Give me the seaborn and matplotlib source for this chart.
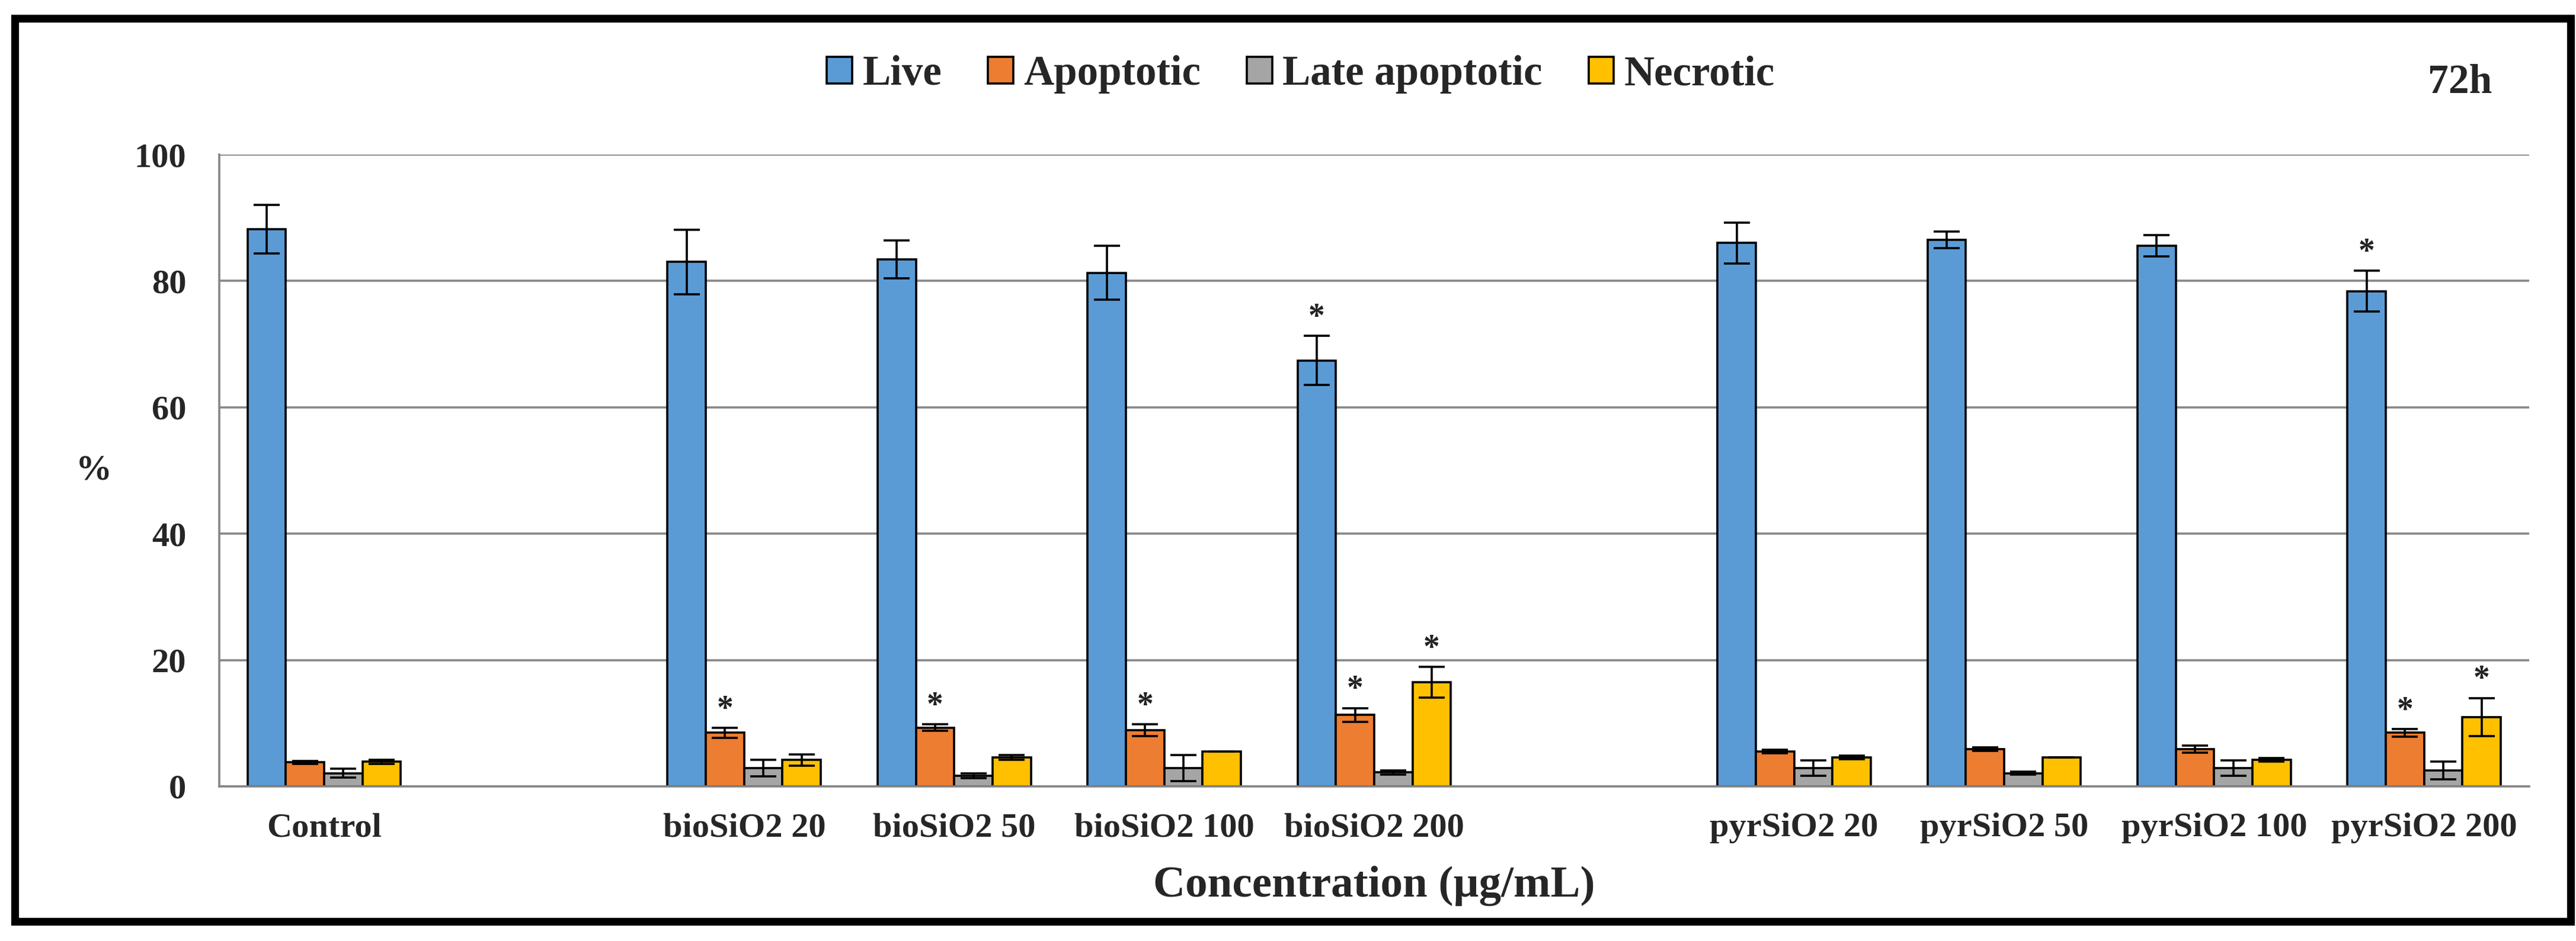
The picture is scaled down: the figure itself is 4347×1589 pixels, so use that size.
"""
plot.py
Cell death assay at 72h: live / apoptotic / late apoptotic / necrotic fractions.
"""

import matplotlib
matplotlib.use("Agg")
import matplotlib.pyplot as plt
from matplotlib.patches import Rectangle
import numpy as np
import pandas as pd
import seaborn as sns


# ---------------------------------------------------------------------------
# Data
# ---------------------------------------------------------------------------
categories = ["Control", " ", "bioSiO2 20", "bioSiO2 50", "bioSiO2 100", "bioSiO2 200",
              "  ", "pyrSiO2 20", "pyrSiO2 50", "pyrSiO2 100", "pyrSiO2 200"]
samples = ["Control", "bioSiO2 20", "bioSiO2 50", "bioSiO2 100", "bioSiO2 200",
           "pyrSiO2 20", "pyrSiO2 50", "pyrSiO2 100", "pyrSiO2 200"]
series = ["Live", "Apoptotic", "Late apoptotic", "Necrotic"]

live      = [88.2, 83.0, 83.4, 81.3, 67.4, 86.0, 86.5, 85.6, 78.4]
live_err  = [3.8, 5.1, 3.0, 4.3, 3.9, 3.2, 1.3, 1.7, 3.2]
apop      = [3.8, 8.5, 9.3, 8.9, 11.3, 5.5, 5.9, 5.9, 8.5]
apop_err  = [0.2, 0.8, 0.5, 0.9, 1.1, 0.3, 0.3, 0.6, 0.6]
late      = [2.1, 2.9, 1.7, 2.9, 2.2, 2.9, 2.1, 2.9, 2.5]
late_err  = [0.7, 1.3, 0.4, 2.1, 0.3, 1.2, 0.2, 1.2, 1.4]
necro     = [3.9, 4.2, 4.6, 5.5, 16.5, 4.6, 4.6, 4.2, 11.0]
necro_err = [0.3, 0.9, 0.4, 0.0, 2.4, 0.3, 0.0, 0.3, 3.0]

# (sample, series) pairs marked with an asterisk
significant = [
    ("bioSiO2 20", "Apoptotic"),
    ("bioSiO2 50", "Apoptotic"),
    ("bioSiO2 100", "Apoptotic"),
    ("bioSiO2 200", "Live"),
    ("bioSiO2 200", "Apoptotic"),
    ("bioSiO2 200", "Necrotic"),
    ("pyrSiO2 200", "Live"),
    ("pyrSiO2 200", "Apoptotic"),
    ("pyrSiO2 200", "Necrotic"),
]

colors = ["#5B9BD5", "#ED7D31", "#A5A5A5", "#FFC000"]
GRID = "#868686"

# ---------------------------------------------------------------------------
# Long-form table
# ---------------------------------------------------------------------------
values = {"Live": live, "Apoptotic": apop, "Late apoptotic": late, "Necrotic": necro}
errors = {"Live": live_err, "Apoptotic": apop_err, "Late apoptotic": late_err, "Necrotic": necro_err}
rows = []
for s in series:
    for i, cat in enumerate(samples):
        rows.append({"category": cat, "series": s, "value": values[s][i], "err": errors[s][i]})
df = pd.DataFrame(rows)
err_lookup = {(r.category, r.series): r.err for r in df.itertuples()}

# ---------------------------------------------------------------------------
# Figure
# ---------------------------------------------------------------------------
sns.set_style("white")
plt.rcParams["font.family"] = ["Liberation Serif", "DejaVu Serif"]
plt.rcParams["font.weight"] = "bold"

DPI = 100
fig = plt.figure(figsize=(43.47, 15.89), dpi=DPI)
ax = fig.add_axes([0.0851, 0.1643, 0.9818 - 0.0851, 0.8357 - 0.1643])

sns.barplot(
    data=df, x="category", y="value", hue="series",
    order=categories, hue_order=series, palette=colors,
    width=0.73, gap=0, edgecolor="black", linewidth=2.6,
    errorbar=None, saturation=1, ax=ax,
)

# error bars + asterisks, placed from the drawn bars
for s, cont in zip(series, ax.containers):
    for bar in cont:
        h = bar.get_height()
        if np.isnan(h):
            continue
        xc = bar.get_x() + bar.get_width() / 2
        cat = categories[int(round(xc))]
        e = err_lookup[(cat, s)]
        ax.errorbar(xc, h, yerr=e, fmt="none", ecolor="black",
                    elinewidth=2.6, capsize=16, capthick=2.6, zorder=5)
        if (cat, s) in significant:
            ax.annotate("*", (xc, h + e), xytext=(0, 3), textcoords="offset points",
                        ha="center", va="bottom", fontsize=40, fontweight="bold",
                        color="#222222", zorder=6)

# axes styling
ax.set_ylim(0, 100)
ax.set_xlim(-0.5, len(categories) - 0.5)
ax.set_yticks(np.arange(0, 101, 20))
ax.yaxis.grid(True, color=GRID, linewidth=2.6)
ax.set_axisbelow(True)
for side in ["top", "right"]:
    ax.spines[side].set_visible(False)
for side in ["left", "bottom"]:
    ax.spines[side].set_color(GRID)
    ax.spines[side].set_linewidth(2.6)

ax.tick_params(axis="y", direction="out", length=15, width=2.2, color=GRID,
               pad=25, labelsize=42)
ax.set_xticks(np.arange(len(categories)))
ax.set_xticklabels(categories, fontsize=42, fontweight="bold")
ax.set_xticks(np.arange(-0.5, len(categories)), minor=True)
ax.tick_params(axis="x", which="major", length=0, pad=32)
ax.tick_params(axis="x", which="minor", direction="out", length=14, width=2.2, color=GRID)
for lbl in ax.get_yticklabels():
    lbl.set_fontweight("bold")

ax.set_xlabel("Concentration (µg/mL)", fontsize=54, fontweight="bold")
ax.xaxis.set_label_coords(0.5, -0.158)
ax.xaxis.label.set_va("center")
ax.set_ylabel("%", fontsize=44, fontweight="bold", rotation=0)
ax.yaxis.set_label_coords(-0.0544, 0.5)
ax.yaxis.label.set_va("center")

# legend across the top
handles, labels = ax.get_legend_handles_labels()
ax.get_legend().remove()
fig.legend(handles, labels, loc="center", bbox_to_anchor=(0.505, 0.921), ncol=4,
           frameon=False, prop={"size": 51, "weight": "bold"},
           handlelength=0.6, handleheight=0.6, handletextpad=0.25, columnspacing=1.1)

fig.text(0.955, 0.912, "72h", ha="center", va="center", fontsize=50, fontweight="bold")

# thick black frame around the whole chart
W, H = 4347, 1589
fig.patches.append(Rectangle((25 / W, 1 - 1556 / H), (4338 - 25) / W, (1556 - 31) / H,
                             transform=fig.transFigure, fill=False,
                             edgecolor="black", linewidth=9.5))

fig.savefig("out.png", dpi=DPI)
plt.close(fig)
